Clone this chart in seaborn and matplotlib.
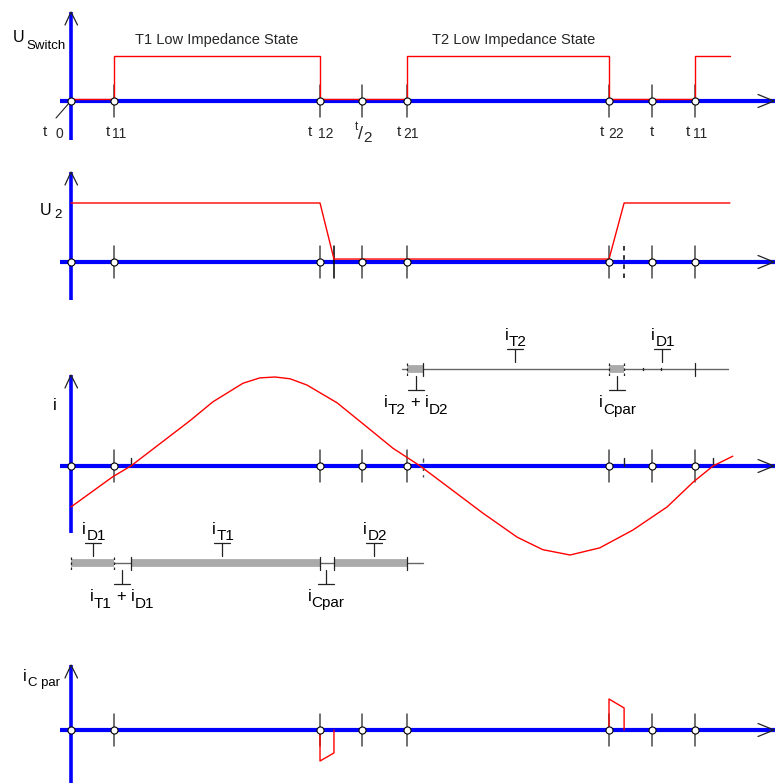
import matplotlib
matplotlib.use("Agg")
import matplotlib.pyplot as plt
import seaborn as sns
import pandas as pd

sns.set_theme(style="white")
plt.rcParams["font.family"] = ["Liberation Sans", "DejaVu Sans"]

# ---------------------------------------------------------------------------
# Timing of one switching period (time expressed as a fraction of T)
# ---------------------------------------------------------------------------
tick_times = [0.0, 0.074, 0.4286, 0.5, 0.578, 0.926, 1.0, 1.074]
tick_subs = ["0", "11", "12", "/2", "21", "22", "", "11"]
ramp_ends = [0.4526, 0.952]           # end of the U2 / i_Cpar transitions
current_zeros = [0.103, 0.606, 1.105]  # zero crossings of the load current

# Switch voltage (T1 / T2 low impedance states)
u_switch_t = [0.0, 0.074, 0.074, 0.4286, 0.4286, 0.578, 0.578, 0.926, 0.926, 1.074, 1.074, 1.134]
u_switch_v = [0.05, 0.05, 1.0, 1.0, 0.05, 0.05, 1.0, 1.0, 0.05, 0.05, 1.0, 1.0]

# Output voltage U2
u2_t = [0.0, 0.4286, 0.4526, 0.926, 0.952, 1.134]
u2_v = [1.0, 1.0, 0.05, 0.05, 1.0, 1.0]

# Load current i
i_t = [0.0, 0.072, 0.103, 0.153, 0.205, 0.244, 0.296, 0.325, 0.351, 0.377, 0.406,
       0.458, 0.509, 0.554, 0.601, 0.652, 0.709, 0.768, 0.812, 0.859, 0.910,
       0.967, 1.026, 1.071, 1.105, 1.139]
i_v = [-0.46, -0.12, 0.0, 0.25, 0.51, 0.72, 0.93, 0.99, 1.0, 0.98, 0.91,
       0.71, 0.44, 0.20, 0.0, -0.25, -0.53, -0.80, -0.94, -1.0, -0.92,
       -0.72, -0.46, -0.18, 0.0, 0.11]

# Current through the parallel capacitor
icpar_t = [0.4286, 0.4286, 0.4526, 0.4526, 0.926, 0.926, 0.952, 0.952]
icpar_v = [0.0, -1.0, -0.74, 0.0, 0.0, 1.0, 0.71, 0.0]
icpar_pulse = [0, 0, 0, 0, 1, 1, 1, 1]

# Conduction intervals
lower_span = (0.0, 0.606)
lower_thick = [(0.0, 0.074), (0.103, 0.4286), (0.4526, 0.578)]
lower_marks_dashed = [0.0, 0.074]
lower_marks = [0.103, 0.4286, 0.4526, 0.578]
lower_above = [("D1", 0.038), ("T1", 0.260), ("D2", 0.5215)]
lower_below = [(["T1", "D1"], 0.088), (["Cpar"], 0.439)]

upper_span = (0.570, 1.131)
upper_thick = [(0.578, 0.606), (0.926, 0.952)]
upper_marks_dashed = [0.578, 0.926, 0.952]
upper_marks = [0.606, 1.074]
upper_dots = [0.984, 1.015]
upper_above = [("T2", 0.764), ("D1", 1.017)]
upper_below = [(["T2", "D2"], 0.594), (["Cpar"], 0.940)]

state_titles = [("T1 Low Impedance State", 135), ("T2 Low Impedance State", 432)]

# ---------------------------------------------------------------------------
BLUE = "#0000ff"
RED = "#ff0000"
TICK = "#4a4a4a"
DARK = "#222222"
BAR = "#aaaaaa"

W, H = 782, 783
X0, PX_PER_T = 71.0, 581.0

fig = plt.figure(figsize=(W / 100, H / 100), dpi=100)
fig.patch.set_facecolor("white")
renderer = fig.canvas.get_renderer()


def px2t(px):
    return (px - X0) / PX_PER_T


def make_panel(top, bottom, base, scale):
    ax = fig.add_axes([0, 1 - bottom / H, 1, (bottom - top) / H])
    ax.set_xlim(-X0 / PX_PER_T, (W - X0) / PX_PER_T)
    ax.set_ylim((base - bottom) / scale, (base - top) / scale)
    ax.axis("off")
    return {"ax": ax, "base": base, "scale": scale}


def yp(p, py):
    return (p["base"] - py) / p["scale"]


def dy(p, pixels):
    return pixels / p["scale"]


def line(p, xs, ys, **kw):
    kw.setdefault("clip_on", False)
    p["ax"].plot(xs, ys, **kw)


def draw_axes(p, vtop, vbot):
    line(p, [px2t(60), px2t(775)], [0, 0], color=BLUE, lw=3.0, solid_capstyle="butt", zorder=2)
    line(p, [0, 0], [yp(p, vtop), yp(p, vbot)], color=BLUE, lw=2.6, solid_capstyle="butt", zorder=2)
    line(p, [px2t(65), 0, px2t(77.5)], [yp(p, vtop + 13), yp(p, vtop), yp(p, vtop + 13)],
         color=DARK, lw=0.9, zorder=3)
    line(p, [px2t(758), px2t(774), px2t(758)], [dy(p, 6.5), 0, -dy(p, 6.5)],
         color=DARK, lw=0.9, zorder=3)


def draw_ticks(p, times, up=16, down=16, color=TICK, ls="-", lw=1.1):
    for t in times:
        line(p, [t, t], [dy(p, up), -dy(p, down)], color=color, lw=lw, ls=ls, zorder=3)


def draw_circles(p, times):
    sns.scatterplot(x=times, y=[0.0] * len(times), ax=p["ax"], s=26, color="white",
                    edgecolor="black", linewidth=0.8, zorder=6, legend=False, clip_on=False)


def text_run(x, y, pieces, align="left"):
    """pieces: (text, fontsize, drop_px) or a number for a horizontal gap in px."""
    objs = []
    for pc in pieces:
        if isinstance(pc, (int, float)):
            objs.append(pc)
            continue
        s, size, drop = pc
        objs.append(fig.text(0, 1 - (y + drop) / H, s, fontsize=size, va="baseline",
                             ha="left", color="black"))
    widths = [o if isinstance(o, (int, float)) else o.get_window_extent(renderer).width
              for o in objs]
    cx = x - sum(widths) / 2 if align == "center" else x
    for o, w in zip(objs, widths):
        if not isinstance(o, (int, float)):
            o.set_x(cx / W)
        cx += w


def i_label(x, y, subs, drop=6.5):
    pieces = []
    for k, s in enumerate(subs):
        if k:
            pieces += [4, ("+", 12, -0.5), 5]
        pieces += [("i", 12, 0), 0.5, (s, 11, drop)]
    text_run(x, y, pieces, align="center")


# ---------------------------------------------------------------------------
# Panel 1 : U_Switch
# ---------------------------------------------------------------------------
p1 = make_panel(0, 155, 101, 45)
draw_axes(p1, 12, 140)
draw_ticks(p1, tick_times[1:])
sns.lineplot(x=u_switch_t, y=u_switch_v, ax=p1["ax"], color=RED, lw=1.0, sort=False,
             estimator=None, legend=False, zorder=4)
draw_circles(p1, tick_times)
line(p1, [px2t(56), px2t(70)], [yp(p1, 118), yp(p1, 102)], color=DARK, lw=0.8, zorder=3)

text_run(13, 42, [("U", 11.5, 0), 1.5, ("Switch", 9.5, 7)])
for title, xpos in state_titles:
    fig.text(xpos / W, 1 - 44 / H, title, fontsize=10.5, va="baseline", ha="left")

tick_label_dx = [(-28, -16), (-8, -2), (-12, -2), None, (-10, -4), (-9, -1), (-2, None), (-9, -2)]
for t, sub, off in zip(tick_times, tick_subs, tick_label_dx):
    xpx = X0 + t * PX_PER_T
    if off is None:
        # half-period label written as a slashed fraction
        fig.text((xpx - 7) / W, 1 - 130 / H, "t", fontsize=8.5, va="baseline")
        fig.text((xpx - 4) / W, 1 - 139 / H, "/", fontsize=13, va="baseline")
        fig.text((xpx + 2) / W, 1 - 142 / H, sub[1:], fontsize=11, va="baseline")
        continue
    fig.text((xpx + off[0]) / W, 1 - 136 / H, "t", fontsize=11, va="baseline")
    if sub:
        fig.text((xpx + off[1]) / W, 1 - 137.5 / H, sub, fontsize=10, va="baseline")

# ---------------------------------------------------------------------------
# Panel 2 : U2
# ---------------------------------------------------------------------------
p2 = make_panel(155, 310, 262, 59)
draw_axes(p2, 172, 300)
draw_ticks(p2, tick_times[1:])
draw_ticks(p2, ramp_ends[:1], color="black")
draw_ticks(p2, ramp_ends[1:], color="black", ls=(0, (3, 3)))
sns.lineplot(x=u2_t, y=u2_v, ax=p2["ax"], color=RED, lw=1.0, sort=False,
             estimator=None, legend=False, zorder=4)
draw_circles(p2, tick_times)
text_run(40, 215, [("U", 11.5, 0), 3, ("2", 9.5, 3)])

# ---------------------------------------------------------------------------
# Panel 3 : load current i and conduction intervals
# ---------------------------------------------------------------------------
p3 = make_panel(310, 640, 466, 89)
draw_axes(p3, 375, 533)
draw_ticks(p3, tick_times[1:])
draw_ticks(p3, [current_zeros[0], ramp_ends[1], current_zeros[2]], up=8, down=0, color=DARK, lw=1.0)
draw_ticks(p3, [current_zeros[1]], up=8, down=11, color=TICK, ls=(0, (3, 3)), lw=1.0)
sns.lineplot(x=i_t, y=i_v, ax=p3["ax"], color=RED, lw=1.0, sort=False,
             estimator=None, legend=False, zorder=4)
draw_circles(p3, tick_times)
text_run(53, 410, [("i", 12, 0)])


def conduction(p, ypx, span, thick, marks, dashed, dots, above, below):
    yl = yp(p, ypx)
    line(p, list(span), [yl, yl], color="#666666", lw=1.0, zorder=3)
    for a, b in thick:
        line(p, [a, b], [yl, yl], color=BAR, lw=5.6, solid_capstyle="butt", zorder=3)
    for t in marks:
        line(p, [t, t], [yl + dy(p, 6.5), yl - dy(p, 6.5)], color=DARK, lw=0.9, zorder=4)
    for t in dashed:
        line(p, [t, t], [yl + dy(p, 6.5), yl - dy(p, 6.5)], color=DARK, lw=0.9,
             ls=(0, (2, 2)), zorder=4)
    for t in dots:
        line(p, [t, t], [yl + dy(p, 1), yl - dy(p, 1)], color=DARK, lw=1.0, zorder=4)
    for sub, t in above:
        line(p, [t - px2t(X0 + 8), t + px2t(X0 + 8)], [yl + dy(p, 20)] * 2, color=DARK, lw=0.9)
        line(p, [t, t], [yl + dy(p, 20), yl + dy(p, 7)], color=DARK, lw=0.9)
        i_label(X0 + t * PX_PER_T + 1, ypx - 29, [sub])
    for subs, t in below:
        line(p, [t - px2t(X0 + 8), t + px2t(X0 + 8)], [yl - dy(p, 21)] * 2, color=DARK, lw=0.9)
        line(p, [t, t], [yl - dy(p, 21), yl - dy(p, 7)], color=DARK, lw=0.9)
        i_label(X0 + t * PX_PER_T, ypx + 38, subs)


conduction(p3, 369, upper_span, upper_thick, upper_marks, upper_marks_dashed, upper_dots,
           upper_above, upper_below)
conduction(p3, 563, lower_span, lower_thick, lower_marks, lower_marks_dashed, [],
           lower_above, lower_below)

# ---------------------------------------------------------------------------
# Panel 4 : i_Cpar
# ---------------------------------------------------------------------------
p4 = make_panel(640, 783, 730, 31)
draw_axes(p4, 665, 790)
draw_ticks(p4, tick_times[1:])
icpar = pd.DataFrame({"t": icpar_t, "v": icpar_v, "pulse": icpar_pulse})
sns.lineplot(data=icpar, x="t", y="v", units="pulse", ax=p4["ax"], color=RED, lw=1.0,
             sort=False, estimator=None, legend=False, zorder=4)
draw_circles(p4, tick_times)
text_run(23, 681, [("i", 11.5, 0), 1, ("C par", 9.5, 5)])

fig.savefig("out.png", dpi=100, facecolor="white")
